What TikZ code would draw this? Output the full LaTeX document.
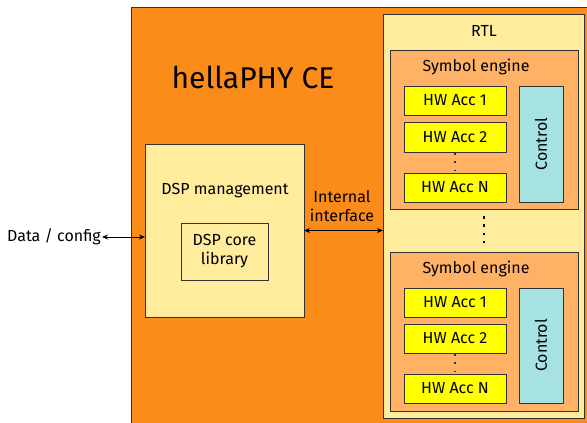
\documentclass[tikz,border=0pt]{standalone}
\usepackage{fontspec}
\setmainfont{Fira Sans}
\usetikzlibrary{arrows.meta}
\definecolor{outerorange}{RGB}{252,140,26}
\definecolor{paleyellow}{RGB}{255,236,156}
\definecolor{engineorange}{RGB}{255,178,102}
\definecolor{accyellow}{RGB}{255,255,0}
\definecolor{ctrlcyan}{RGB}{166,226,226}
\definecolor{edgegray}{RGB}{50,50,50}
\tikzset{
  blk/.style={draw=edgegray, line width=0.8pt, anchor=north west, inner sep=0pt, outer sep=0pt},
  txt/.style={inner sep=0pt, font=\fontsize{16}{19}\selectfont},
  acc/.style={blk, fill=accyellow, minimum width=102, font=\fontsize{16}{19}\selectfont},
  ctrl/.style={blk, fill=ctrlcyan, minimum width=44, font=\fontsize{16}{19}\selectfont},
  eng/.style={blk, fill=engineorange, minimum width=188, minimum height=159},
  accdots/.style={line width=1.1pt, dash pattern=on 1.6pt off 6.7pt, shorten <=1pt, shorten >=2pt, edgegray},
  biarrow/.style={{Stealth[length=6pt,width=5pt]}-{Stealth[length=6pt,width=5pt]}, line width=0.8pt, black},
}
\begin{document}
\begin{tikzpicture}[x=1pt,y=-1pt]
\useasboundingbox (0,0) rectangle (587,423);
\clip (0,0) rectangle (587,423);
\node[blk, fill=outerorange, minimum width=470, minimum height=430] (ce) at (131,7) {};
\node[inner sep=0pt, font=\fontsize{30}{34}\selectfont] (title) at (253,77) {hellaPHY CE};
% RTL
\node[blk, fill=paleyellow, minimum width=201, minimum height=404] (rtl) at (383,14) {};
\node[txt] (rtllbl) at (484,31) {RTL};
% engine 1
\node[eng] (eng1) at (390,50) {};
\node[txt] (eng1lbl) at (476,67) {Symbol engine};
\node[acc, minimum height=29] (a11) at (404,86) {HW Acc 1};
\node[acc, minimum height=30] (a12) at (404,122) {HW Acc 2};
\node[acc, minimum height=29] (a1n) at (404,173) {HW Acc N};
\node[ctrl, minimum height=116] (c1) at (519,86) {\rotatebox{90}{Control}};
\draw[accdots] (a12.south) -- (a1n.north);
% engine 2
\node[eng] (eng2) at (390,252) {};
\node[txt] (eng2lbl) at (476,269) {Symbol engine};
\node[acc, minimum height=29] (a21) at (404,288) {HW Acc 1};
\node[acc, minimum height=29] (a22) at (404,324) {HW Acc 2};
\node[acc, minimum height=29] (a2n) at (404,374) {HW Acc N};
\node[ctrl, minimum height=115] (c2) at (519,288) {\rotatebox{90}{Control}};
\draw[accdots] (a22.south) -- (a2n.north);
% dashes between engines
\draw[line width=1.2pt, dash pattern=on 2.5pt off 5.8pt, shorten <=7pt, shorten >=8pt] (eng1.south) -- (eng2.north);
% DSP
\node[blk, fill=paleyellow, minimum width=159, minimum height=173] (dsp) at (145,144) {};
\node[txt] (dsplbl) at (225,191) {DSP management};
\node[blk, fill=paleyellow, minimum width=87, minimum height=57, align=center, font=\fontsize{16}{19}\selectfont] (core) at (181,223) {DSP core\\library};
% external
\node[txt, anchor=east] (data) at (101,237) {Data / config};
\draw[biarrow] (data.east) ++(1,0) coordinate (dstart) -- (dstart -| dsp.west);
\node[txt, align=center] (iface) at (342,206) {Internal\\interface};
\draw[biarrow] (dsp.east) -- (dsp.east -| rtl.west);
\end{tikzpicture}
\end{document}
